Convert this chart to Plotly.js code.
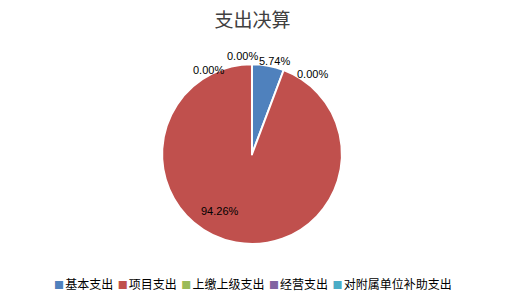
<!DOCTYPE html>
<html><head><meta charset="utf-8">
<script src="https://cdn.plot.ly/plotly-3.0.1.min.js"></script>
<style>html,body{margin:0;padding:0;background:#fff}#c{width:505px;height:304px}</style>
</head><body><div id="c"></div>
<script>
const categories = ['基本支出','项目支出','上缴上级支出','经营支出','对附属单位补助支出'];
const values = [5.74, 94.26, 0.00, 0.00, 0.00];
const colors = ['#4F81BD','#C0504D','#9BBB59','#8064A2','#4BACC6'];
const labelText = values.map(v => v.toFixed(2) + '%');
// data-label anchor positions (paper coords), one per category
const labelPos = [[0.543,0.826],[0.436,0.28],[0.412,0.796],[0.481,0.842],[0.618,0.783]];

const trace = {
  type:'pie', labels:categories, values:values, sort:false, direction:'clockwise', rotation:0,
  marker:{colors:colors, line:{color:'#fff', width:2}},
  textinfo:'none', hoverinfo:'label+percent', showlegend:false,
  domain:{x:[0.321,0.677], y:[0.197,0.789]}
};
const annotations = labelText.map((t,i)=>({
  text:t, x:labelPos[i][0], y:labelPos[i][1], xref:'paper', yref:'paper', showarrow:false,
  font:{family:'Liberation Sans, Arial, sans-serif', size:11, color:'#000'}
}));
// legend row built from categories & colors
const legendText = categories.map((c,i)=>
  `<span style="font-size:10px;fill:${colors[i]}">■</span><span style="font-size:5px"> </span>${c}`
).join('<span style="font-size:10px">  </span>');
annotations.push({
  text:legendText, x:0.5, y:1-283/304, xref:'paper', yref:'paper', showarrow:false,
  xanchor:'center', yanchor:'middle',
  font:{family:'Noto Sans CJK SC, sans-serif', size:12, color:'#000'}
});
const layout = {
  width:505, height:304, margin:{l:0,r:0,t:0,b:0}, paper_bgcolor:'#fff',
  title:{text:'支出决算', x:0.5, xanchor:'center', y:1-20/304, yanchor:'middle',
    font:{family:'Noto Sans CJK SC, sans-serif', size:19, color:'#404040'}},
  showlegend:false,
  annotations:annotations
};
Plotly.newPlot('c',[trace],layout,{displayModeBar:false, staticPlot:true});
</script></body></html>
